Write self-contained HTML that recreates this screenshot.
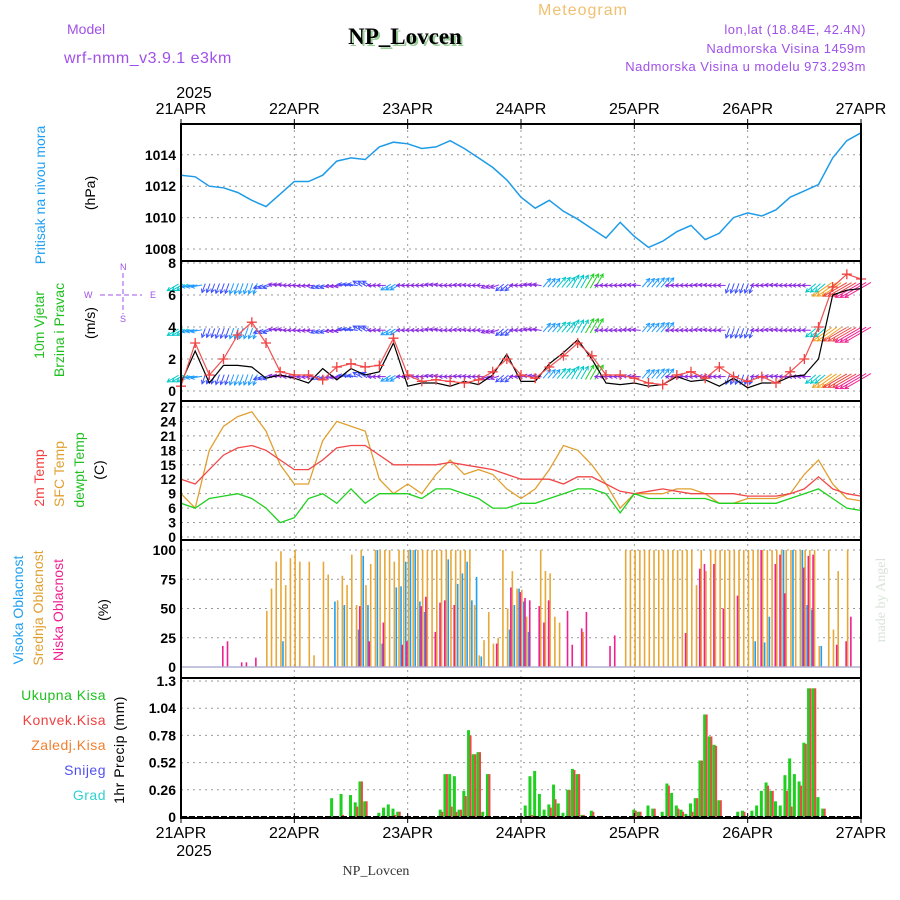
<!DOCTYPE html>
<html><head><meta charset="utf-8"><style>
body{margin:0;background:#fff;width:900px;height:900px;overflow:hidden}
svg{display:block}
text{font-family:"Liberation Sans",sans-serif}
</style></head><body>
<svg id="chart" width="900" height="900" viewBox="0 0 900 900" xmlns="http://www.w3.org/2000/svg">
<g id="header">
<text x="583" y="15" font-size="16" fill="#f0c070" text-anchor="middle" letter-spacing="1">Meteogram</text>
<text x="67" y="34" font-size="14" fill="#a050e8">Model</text>
<text x="405" y="44" font-size="23" font-weight="bold" style="font-family:'Liberation Serif',serif" fill="#9c9" text-anchor="middle" transform="translate(2,2)">NP_Lovcen</text>
<text x="405" y="44" font-size="23" font-weight="bold" style="font-family:'Liberation Serif',serif" fill="#000" text-anchor="middle">NP_Lovcen</text>
<text x="64" y="63" font-size="16" fill="#a050e8" letter-spacing="0.5">wrf-nmm_v3.9.1 e3km</text>
<text x="866" y="34" font-size="13" fill="#a050e8" text-anchor="end" letter-spacing="0.5">lon,lat (18.84E, 42.4N)</text>
<text x="866" y="53" font-size="13" fill="#a050e8" text-anchor="end" letter-spacing="0.5">Nadmorska Visina 1459m</text>
<text x="866" y="71" font-size="13" fill="#a050e8" text-anchor="end" letter-spacing="0.5">Nadmorska Visina u modelu 973.293m</text>
<text x="194" y="98" font-size="16" text-anchor="middle">2025</text>
</g>
<g id="grid"></g>
<g id="marks"></g>
<g id="frames"></g>
<g id="axes"></g>
<g id="labels">
<text transform="translate(45,195) rotate(-90)" font-size="14" fill="#20a0f0" text-anchor="middle">Pritisak na nivou mora</text>
<text transform="translate(95,193) rotate(-90)" font-size="14" text-anchor="middle">(hPa)</text>
<text transform="translate(44,325) rotate(-90)" font-size="14" fill="#20c020" text-anchor="middle">10m Vjetar</text>
<text transform="translate(64,330) rotate(-90)" font-size="14" fill="#20c020" text-anchor="middle">Brzina i Pravac</text>
<text transform="translate(95,323) rotate(-90)" font-size="14" text-anchor="middle">(m/s)</text>
<g fill="#a050e8" stroke="none" font-size="9">
<text x="84" y="298">W</text><text x="150" y="298">E</text>
<text x="120" y="270">N</text><text x="120" y="322">S</text>
<line x1="100" y1="295" x2="142" y2="295" stroke="#a050e8" stroke-dasharray="5,3"/>
<line x1="123" y1="273" x2="123" y2="314" stroke="#a050e8" stroke-dasharray="5,3"/>
</g>
<text transform="translate(44,478) rotate(-90)" font-size="14" fill="#f04040" text-anchor="middle">2m Temp</text>
<text transform="translate(64,474) rotate(-90)" font-size="14" fill="#e0a030" text-anchor="middle">SFC Temp</text>
<text transform="translate(84,470) rotate(-90)" font-size="14" fill="#20c020" text-anchor="middle">dewpt Temp</text>
<text transform="translate(104,470) rotate(-90)" font-size="14" text-anchor="middle">(C)</text>
<text transform="translate(23,610) rotate(-90)" font-size="14" fill="#20a0f0" text-anchor="middle">Visoka Oblacnost</text>
<text transform="translate(43,608) rotate(-90)" font-size="14" fill="#e0a030" text-anchor="middle">Srednja Oblacnost</text>
<text transform="translate(63,610) rotate(-90)" font-size="14" fill="#f02090" text-anchor="middle">Niska Oblacnost</text>
<text transform="translate(108,610) rotate(-90)" font-size="14" text-anchor="middle">(%)</text>
<text x="106" y="700" font-size="14" fill="#20c020" text-anchor="end" letter-spacing="0.5">Ukupna Kisa</text>
<text x="106" y="725" font-size="14" fill="#f04040" text-anchor="end" letter-spacing="0.5">Konvek.Kisa</text>
<text x="106" y="750" font-size="14" fill="#f08030" text-anchor="end" letter-spacing="0.5">Zaledj.Kisa</text>
<text x="106" y="775" font-size="14" fill="#5050f0" text-anchor="end" letter-spacing="0.5">Snijeg</text>
<text x="106" y="800" font-size="14" fill="#30d0d0" text-anchor="end" letter-spacing="0.5">Grad</text>
<text transform="translate(124,750) rotate(-90)" font-size="14" text-anchor="middle" letter-spacing="0.5">1hr Precip (mm)</text>
<text transform="translate(885,600) rotate(-90)" font-size="14" style="font-family:'Liberation Serif',serif" fill="#d8e4d8" text-anchor="middle">made by Angel</text>
<text x="194" y="856" font-size="16" text-anchor="middle">2025</text>
<text x="376" y="875" font-size="14" style="font-family:'Liberation Serif',serif" fill="#333" text-anchor="middle">NP_Lovcen</text>
</g>
</svg>
<script>
// ---- data ----
const dayLabels = ["21APR","22APR","23APR","24APR","25APR","26APR","27APR"];
const hours3 = [0,3,6,9,12,15,18,21,24,27,30,33,36,39,42,45,48,51,54,57,60,63,66,69,72,75,78,81,84,87,90,93,96,99,102,105,108,111,114,117,120,123,126,129,132,135,138,141,144];
const pressure = [1012.7,1012.6,1012.0,1011.9,1011.6,1011.1,1010.7,1011.5,1012.3,1012.3,1012.7,1013.6,1013.8,1013.7,1014.5,1014.8,1014.7,1014.4,1014.5,1014.9,1014.4,1013.8,1013.2,1012.4,1011.3,1010.6,1011.1,1010.4,1009.9,1009.3,1008.7,1009.7,1008.8,1008.1,1008.5,1009.1,1009.5,1008.6,1009.0,1010.0,1010.3,1010.1,1010.5,1011.3,1011.7,1012.1,1013.8,1014.9,1015.4];
const gust = [0.3,3,1,2,3.5,4.3,3,1.2,1,1,0.7,1.5,1.7,1.5,1.6,3.3,1,0.6,0.7,0.6,0.5,0.7,1.2,2.0,1.0,0.8,1.5,2.2,3.0,2.2,1.0,1.0,0.8,0.5,0.4,1.0,1.2,0.8,1.5,0.9,0.6,0.9,0.5,1.2,2.0,4.0,6.5,7.3,7.0];
const windSpeed = [0.5,2.5,0.5,1.6,1.6,1.5,0.8,1.0,0.8,0.5,1.4,0.7,1.4,1.0,1.2,3.0,0.3,0.5,0.5,0.3,0.6,0.4,1.0,2.3,0.6,0.6,1.7,2.4,3.2,2.0,0.5,0.4,0.5,0.3,0.4,0.9,0.6,0.7,0.3,0.8,0.2,0.5,0.5,0.9,1.0,2.0,6.0,6.3,6.4];
const windDir = [240,260,200,200,200,200,250,280,270,265,250,260,280,300,270,240,270,270,280,270,275,270,250,230,270,280,40,40,30,30,270,270,275,40,40,270,270,275,270,200,200,270,275,270,270,230,235,240,240];
const windColorSpd = [2,1.5,1,1.3,1.5,1.5,1.2,0.8,0.7,0.7,1,0.8,1.2,1.3,0.8,1.5,0.6,0.6,0.6,0.6,0.6,0.6,0.8,1.2,0.7,0.8,1.5,2,2.5,3,0.6,0.6,0.7,1.5,1.8,0.6,0.6,0.6,0.6,1.2,1.2,0.6,0.6,0.6,0.8,2,5,6,7];
const windRows = [6.6,3.8,0.9];
const temp2m = [12,11,14,17,18.5,19,18,16,14,14,16,18.5,19,19,17,15,15,15,15,15.5,15,14.5,14,13,12,12,12,11,12.5,12.5,11,9.5,9,9.5,10,9.5,9,9,9,9,8.5,8.5,8.5,9,10,12.5,10,9,8.5];
const tempSfc = [9,6,18,23,25,26,22,15,11,11,20,24,23,22,12,9,11,9,13,16,13,14,13,10,8,10,14,19,18,15,11,6,9,9,9,10,10,9,7,7,8,8,8,9,13,16,11,8,7.5];
const dewpt = [7,6,8,8.5,9,8,6,3,4,8,9,7,10,7,9,9,9,8,10,10,9,8,6,6,7,7,8,9,10,10,9,5,9,8,8,8,8,8,7,7,7,7,7,8,9,10,8,6,5.5];
const cloudHours = [];
for(let h=0;h<144;h++) cloudHours.push(h);
const cloudMid = [0,0,0,0,0,0,0,0,0,0,0,0,0,0,0,0,0,0,48,67,90,99,70,93,100,90,0,90,10,0,90,79,0,57,78,70,96,53,100,70,88,100,100,100,100,90,100,100,100,100,100,100,100,100,100,100,100,100,100,100,100,100,53,10,23,47,20,25,100,50,82,67,66,43,0,0,100,82,80,43,38,0,0,0,0,30,0,0,0,0,0,0,0,0,100,100,100,100,100,100,100,100,100,100,100,100,100,100,100,70,100,82,100,100,100,100,100,100,100,100,100,100,100,100,100,100,100,100,100,100,100,100,100,100,100,18,0,100,32,82,0,100];
const cloudHigh = [0,0,0,0,0,0,0,0,0,0,0,0,0,0,0,0,0,0,0,0,0,22,0,0,0,0,0,0,0,0,0,0,56,0,53,0,0,32,95,53,0,100,20,0,0,68,69,90,100,100,56,47,0,0,0,0,92,0,71,80,90,57,77,9,0,0,0,0,0,32,53,67,56,30,0,0,0,0,0,0,0,0,0,0,0,0,0,0,0,0,0,0,0,0,0,0,0,0,0,0,0,0,0,0,0,0,0,0,0,0,0,0,0,0,0,0,0,0,0,0,0,22,0,21,43,0,0,100,0,100,0,100,53,49,0,18,0,0,0,0,0,0,0,0];
const cloudLow = [0,0,0,0,0,0,0,0,0,18,22,0,0,4,4,0,8,0,0,0,0,0,0,0,0,0,0,0,0,0,0,0,0,0,0,0,0,0,52,0,22,0,0,38,0,0,0,19,22,0,0,52,60,0,30,55,57,0,53,0,0,0,0,0,0,0,0,20,0,0,68,0,64,59,57,0,52,38,57,0,0,0,48,19,0,33,47,0,0,0,0,18,27,0,0,0,0,0,0,0,0,0,0,0,0,0,0,29,0,0,84,88,0,88,0,50,0,0,61,0,0,0,0,100,0,0,88,96,63,0,0,0,85,95,96,0,0,0,0,19,0,22,43,0];
const precipHours = [32,34,36,37,38,39,42,43,44,45,46,55,56,57,58,59,60,61,62,63,64,65,73,74,75,76,77,78,79,80,81,82,83,84,85,87,96,97,99,100,102,103,104,105,106,107,108,109,110,111,112,113,114,118,119,121,122,123,124,125,126,127,128,129,130,131,132,133,134,135,136];
const precipTotal = [0.18,0.22,0.21,0.14,0.34,0.15,0.04,0.09,0.12,0.08,0.05,0.07,0.41,0.41,0.39,0.07,0.25,0.83,0.6,0.62,0.05,0.41,0.11,0.39,0.44,0.22,0.07,0.12,0.31,0.13,0.04,0.26,0.46,0.41,0.02,0.06,0.07,0.05,0.11,0.08,0.05,0.32,0.23,0.11,0.07,0.03,0.13,0.18,0.54,0.98,0.77,0.69,0.16,0.05,0.06,0.06,0.11,0.25,0.33,0.25,0.15,0.11,0.4,0.56,0.41,0.34,0.71,1.23,1.23,0.19,0.08];
const precipConv = [0,0.02,0,0.1,0.34,0.15,0,0,0,0.02,0.05,0.05,0.41,0.1,0.05,0.07,0.2,0.78,0.6,0.62,0,0.41,0,0.02,0,0,0,0.09,0.17,0,0,0.26,0.45,0.41,0.02,0.05,0.06,0.05,0,0.08,0,0.3,0,0.08,0.05,0,0.05,0.18,0.54,0.98,0.77,0.68,0.16,0,0.05,0,0,0,0.3,0.25,0,0,0.25,0.1,0,0.3,0.7,1.23,1.23,0,0.08];
const pressTicks = [1008,1010,1012,1014];
const windTicks = [0,2,4,6,8];
const tempTicks = [0,3,6,9,12,15,18,21,24,27];
const cloudTicks = [0,25,50,75,100];
const precipTicks = [0,0.26,0.52,0.78,1.04,1.3];

// ---- layout ----
const X0=181, X1=861;
const xH = h => X0 + (X1-X0)*h/144;
const yPress = v => 249 - (v-1008)*15.7;
const yWind = v => 391 - v*16;
const yTemp = v => 537 - v*(130/27);
const yCloud = v => 667 - v*1.17;
const yPrec = v => 817 - v*(136/1.3);
const bounds = [[124,261],[261,401],[401,540],[540,678],[678,818]];
const NS="http://www.w3.org/2000/svg";
function el(tag,attrs,parent){const e=document.createElementNS(NS,tag);for(const k in attrs)e.setAttribute(k,attrs[k]);parent.appendChild(e);return e;}
const grid=document.getElementById('grid'), marks=document.getElementById('marks'), frames=document.getElementById('frames'), axes=document.getElementById('axes');

for(let d=1;d<6;d++){
  const x=xH(d*24);
  const g=el('line',{x1:x,x2:x,y1:124,y2:818,stroke:'#999','stroke-dasharray':'2,4'},grid);
  
  
}
function hgrid(ticks,fy,name){
  ticks.forEach(t=>{
    const y=fy(t);
    const g=el('line',{x1:X0,x2:X1,y1:y,y2:y,stroke:'#999','stroke-dasharray':'2,4'},grid);
    
    
    const tx=el('text',{x:176,y:y+5,'font-size':14,'font-weight':'bold','text-anchor':'end'},axes);
    tx.textContent=String(t);
    
    
  });
}
hgrid(pressTicks,yPress,'pressure');
hgrid(windTicks,yWind,'wind');
hgrid(tempTicks,yTemp,'temp');
hgrid(cloudTicks,yCloud,'cloud');
hgrid(precipTicks,yPrec,'precip');

bounds.forEach(b=>{
  const r=el('rect',{x:X0,y:b[0],width:X1-X0,height:b[1]-b[0],fill:'none',stroke:'#000','stroke-width':2},frames);
  
  
});
dayLabels.forEach((d,i)=>{
  const x=xH(i*24);
  [[114,'top'],[838,'bottom']].forEach(([y,n])=>{
    const t=el('text',{x:x,y:y,'font-size':16,'text-anchor':'middle'},axes);
    t.textContent=d;
    
    
  });
  for(const yy of [124,818]){
    const tk=el('line',{x1:x,x2:x,y1:yy-5,y2:yy+5,stroke:'#000'},axes);
    
    
  }
});

function line(xs,ys,fy,color,name,w){
  const pts=xs.map((h,i)=>xH(h).toFixed(1)+','+fy(ys[i]).toFixed(1)).join(' ');
  const p=el('polyline',{points:pts,fill:'none',stroke:color,'stroke-width':w||1.5},marks);
  
  
}
line(hours3,pressure,yPress,'#1e9be8','pressure-line',1.5);

function wcol(s){return s<0.9?'#8a2be2':s<1.4?'#3c50ff':s<2?'#1e9bff':s<2.6?'#00c8c8':s<3.5?'#20d020':s<4.5?'#d0d000':s<5.5?'#f0a020':s<6.5?'#f04040':'#f02090';}
windRows.forEach(row=>{
  hours3.forEach((h,i)=>{
    const s=windColorSpd[i], a=windDir[i]*Math.PI/180, L=Math.min(6+3.5*s,30);
    const c=wcol(s);
    for(let k=0;k<3;k++){
      const x=xH(h)+(k-1)*4.7, y=yWind(row);
      const dx=Math.sin(a)*L, dy=-Math.cos(a)*L;
      const bx=x-dx*0.2, by=y-dy*0.2, ex=x+dx*0.8, ey=y+dy*0.8;
      const ln=el('line',{x1:bx,y1:by,x2:ex,y2:ey,stroke:c,'stroke-width':1},marks);
      
      
      const ang=Math.atan2(ey-by,ex-bx);
      const hd=el('polyline',{points:`${ex-4*Math.cos(ang-0.5)},${ey-4*Math.sin(ang-0.5)} ${ex},${ey} ${ex-4*Math.cos(ang+0.5)},${ey-4*Math.sin(ang+0.5)}`,fill:'none',stroke:c,'stroke-width':1},marks);
      
      
    }
  });
});
line(hours3,windSpeed,yWind,'#000','wind-speed-line',1.2);
line(hours3,gust,yWind,'#f05050','wind-gust-line',1.2);
hours3.forEach((h,i)=>{
  const x=xH(h), y=yWind(gust[i]);
  const m=el('path',{d:`M${x-5},${y}H${x+5}M${x},${y-5}V${y+5}`,stroke:'#f04040','stroke-width':1.3},marks);
  
  
});

line(hours3,tempSfc,yTemp,'#e0a030','sfc-temp-line',1.3);
line(hours3,temp2m,yTemp,'#f04848','temp-2m-line',1.3);
line(hours3,dewpt,yTemp,'#20d020','dewpoint-line',1.3);

function bars(arr,color,off,name){
  arr.forEach((v,i)=>{
    if(v<=0)return;
    const x=xH(cloudHours[i])+off;
    const r=el('rect',{x:x,y:yCloud(v),width:1.6,height:yCloud(0)-yCloud(v),fill:color},marks);
    
    
  });
}
bars(cloudMid,'#e8a838',0,'cloud-mid-bar');
bars(cloudHigh,'#20a0f0',2,'cloud-high-bar');
bars(cloudLow,'#f02090',-1.5,'cloud-low-bar');
const base=el('line',{x1:X0,x2:X1,y1:yCloud(0),y2:yCloud(0),stroke:'#b0b0d0','stroke-width':1.5},marks);



precipHours.forEach((h,i)=>{
  const x=xH(h);
  const g=el('rect',{x:x-2,y:yPrec(precipTotal[i]),width:3,height:yPrec(0)-yPrec(precipTotal[i]),fill:'#20d020'},marks);
  
  
  if(precipConv[i]>0){
    const r=el('rect',{x:x+0.5,y:yPrec(precipConv[i]),width:2,height:yPrec(0)-yPrec(precipConv[i]),fill:'#f04848'},marks);
    
    
  }
});
const pb=el('line',{x1:X0,x2:X1,y1:yPrec(0),y2:yPrec(0),stroke:'#000','stroke-width':2,'stroke-dasharray':'6,2'},marks);


</script>
</body></html>
